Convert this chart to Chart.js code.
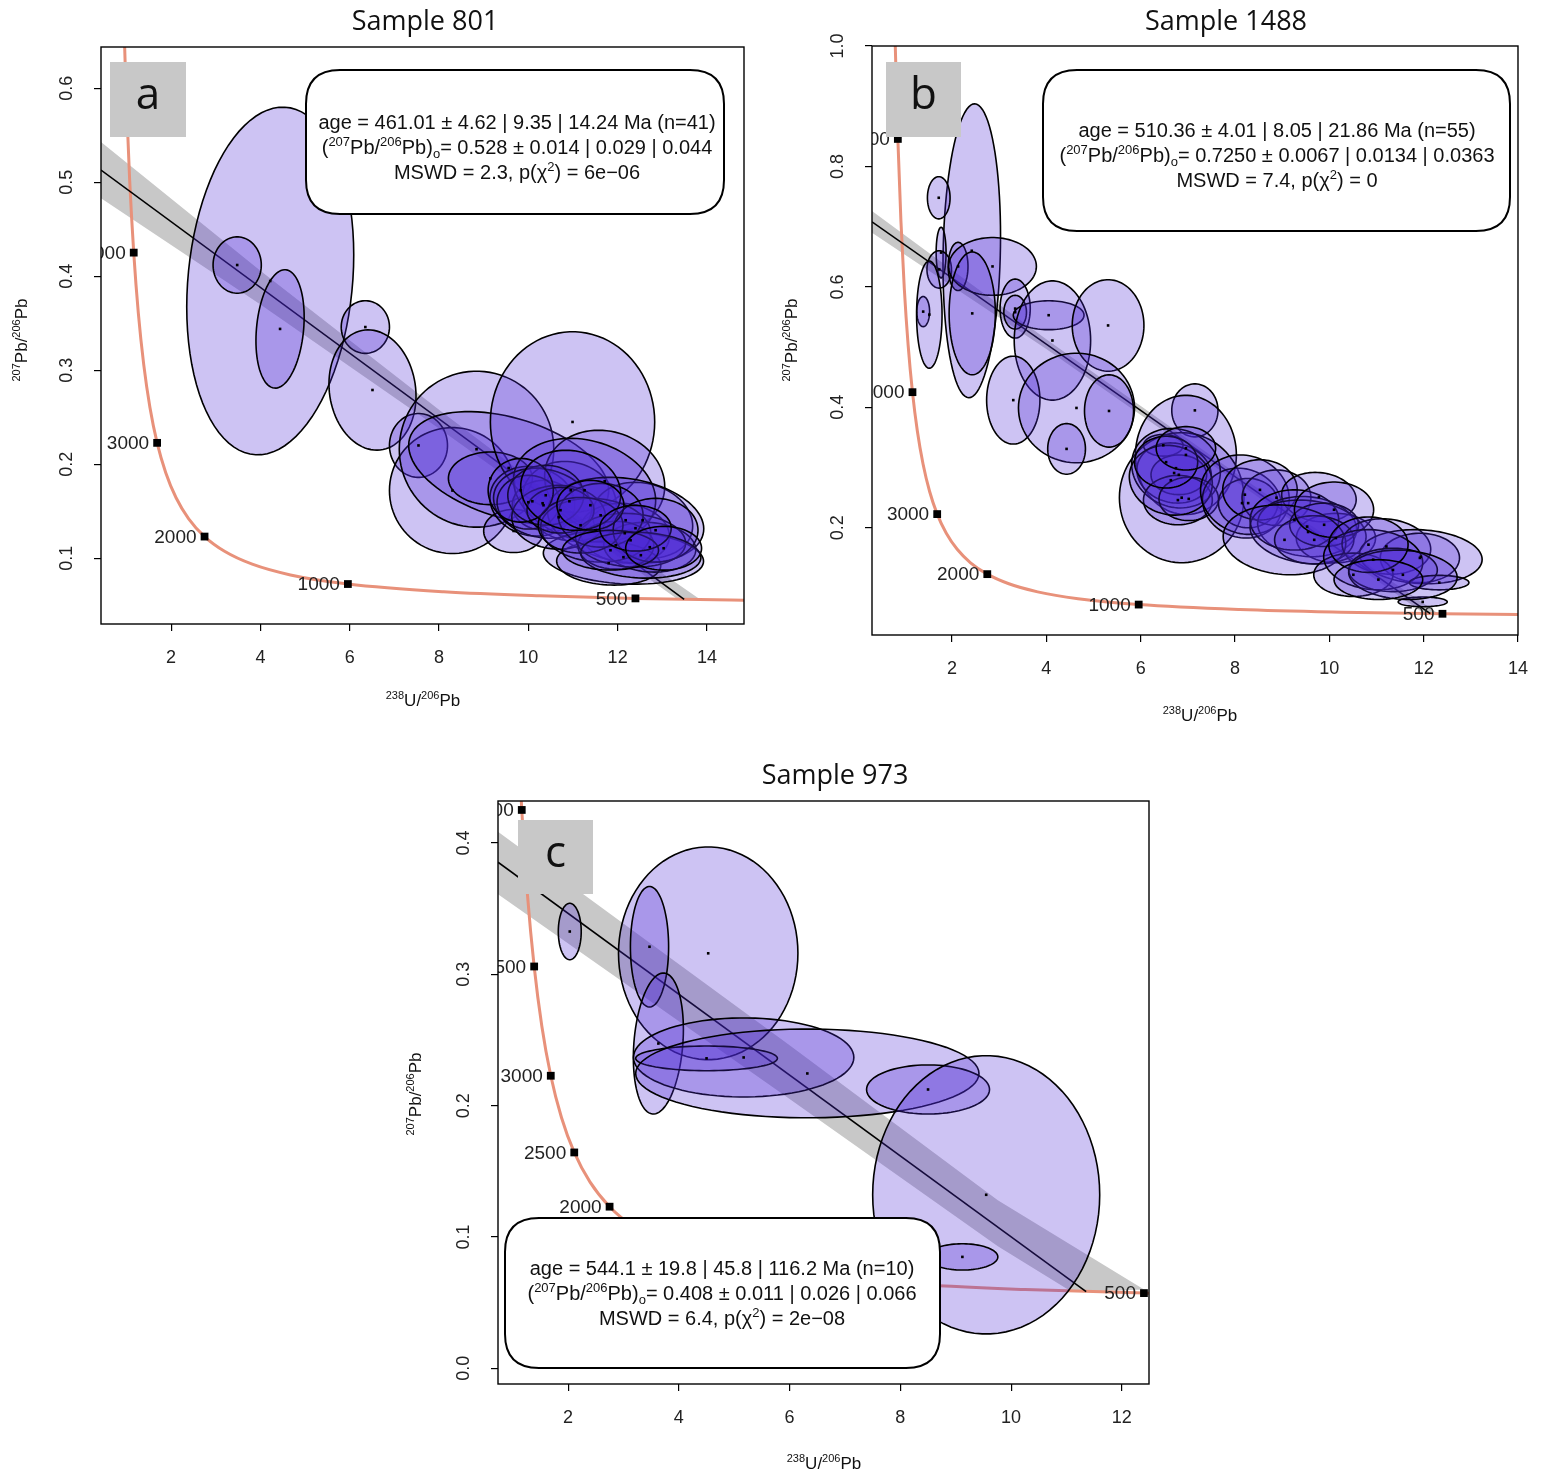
<!DOCTYPE html>
<html>
<head>
<meta charset="utf-8">
<script src="https://cdn.jsdelivr.net/npm/chart.js@4.4.1/dist/chart.umd.min.js"></script>
<style>
body { margin: 0; background: #fff; width: 1544px; height: 1477px; position: relative; overflow: hidden; }
canvas { position: absolute; }
</style>
</head>
<body>
<canvas id="chartA" width="772" height="730" style="left:0;top:0;width:772px;height:730px"></canvas>
<canvas id="chartB" width="772" height="740" style="left:772px;top:0;width:772px;height:740px"></canvas>
<canvas id="chartC" width="800" height="732" style="left:380px;top:745px;width:800px;height:732px"></canvas>
<script>
// concordia curve (Tera-Wasserburg), age in Ma
const concAge = [400, 500, 600, 750, 1000, 1250, 1500, 1750, 2000, 2250, 2500, 2750, 3000, 3250, 3500, 3750, 4000, 4250, 4500, 4750, 5000, 5250, 5500];
const concX = [15.621, 12.399, 10.252, 8.105, 5.959, 4.673, 3.817, 3.206, 2.749, 2.394, 2.111, 1.880, 1.687, 1.525, 1.387, 1.267, 1.163, 1.071, 0.990, 0.918, 0.853, 0.795, 0.742];
const concY = [0.05472, 0.05724, 0.05993, 0.06429, 0.07253, 0.08223, 0.09364, 0.10711, 0.12304, 0.14193, 0.16434, 0.19099, 0.22276, 0.26067, 0.30597, 0.36017, 0.42519, 0.50325, 0.59697, 0.70967, 0.8457, 1.0095, 1.2075];

// sample 801
const aTicksX = [2, 4, 6, 8, 10, 12, 14];
const aTicksY = [0.1, 0.2, 0.3, 0.4, 0.5, 0.6];
const aMarkers = [500, 1000, 2000, 3000, 4000];
const aEllX = [4.22, 3.48, 4.44, 6.35, 6.51, 7.54, 8.30, 8.84, 9.56, 9.15, 9.67, 10.99,
  10.09, 10.34, 10.92, 11.71, 12.56, 12.16, 11.26, 10.32, 10.00, 12.18, 12.13, 11.80, 12.72, 10.68, 10.39,
  11.51, 11.96, 10.72, 12.29, 11.62, 11.17, 12.85, 12.52, 9.83, 10.95, 11.84, 11.39, 12.40, 13.03];
const aEllY = [0.395, 0.412, 0.344, 0.346, 0.279, 0.220, 0.172, 0.216, 0.196, 0.185, 0.129, 0.245,
  0.1606, 0.1564, 0.1606, 0.1819, 0.1404, 0.1266, 0.1723, 0.1585, 0.1596, 0.1404, 0.1011, 0.0947, 0.1117, 0.1436, 0.1670,
  0.1298, 0.1138, 0.1511, 0.1191, 0.1457, 0.1351, 0.1298, 0.1032, 0.1723, 0.1723, 0.1085, 0.1564, 0.1319, 0.1106];
const aEllSx = [1.87, 0.54, 0.54, 0.54, 0.975, 0.65, 1.41, 1.73, 2.24, 0.94, 0.67, 1.84,
  0.95, 0.70, 1.05, 1.345, 1.121, 1.00, 1.592, 1.099, 0.70, 1.749, 1.794, 1.166, 1.031, 1.05, 0.85,
  1.233, 0.85, 0.75, 1.233, 0.95, 0.95, 0.95, 1.345, 0.73, 1.121, 1.076, 0.75, 0.80, 0.85];
const aEllSy = [0.185, 0.030, 0.063, 0.028, 0.064, 0.034, 0.067, 0.083, 0.060, 0.028, 0.023, 0.096,
  0.0371, 0.0264, 0.0424, 0.0543, 0.0404, 0.0318, 0.0553, 0.0372, 0.0286, 0.0457, 0.0287, 0.0233, 0.0265, 0.0339, 0.0318,
  0.0339, 0.0254, 0.0243, 0.0286, 0.0339, 0.0296, 0.0339, 0.0244, 0.0339, 0.0426, 0.0211, 0.0264, 0.0243, 0.0233];
const aEllRho = [0.15, 0, 0.2, 0, -0.1, 0, 0, 0, -0.4, 0, 0, 0,
  -0.1, 0, -0.1, -0.1, -0.15, -0.1, -0.2, -0.15, 0, -0.2, -0.15, -0.1, -0.1, 0, 0,
  -0.1, 0, 0, -0.1, 0, 0, 0, -0.1, 0, -0.1, 0, 0, 0, 0];
const aBandUpX = [0.43, 4, 8, 11, 13.85];
const aBandUpY = [0.543, 0.406, 0.258, 0.150, 0.056];
const aBandLoX = [0.43, 4, 8, 11, 13.35];
const aBandLoY = [0.483, 0.370, 0.238, 0.136, 0.056];
const aLineX = [0.43, 13.49];
const aLineY = [0.513, 0.0562];

// sample 1488
const bTicksX = [2, 4, 6, 8, 10, 12, 14];
const bTicksY = [0.2, 0.4, 0.6, 0.8, 1.0];
const bMarkers = [500, 1000, 2000, 3000, 4000, 5000];
const bEllX = [2.42, 1.72, 1.77, 1.73, 2.13, 2.86, 2.43, 1.39, 1.52, 3.34, 3.34, 4.05, 4.13, 5.31, 3.30, 4.64, 5.33, 4.43,
  7.15, 6.96, 6.87, 6.48, 6.71, 6.81, 6.75, 6.79, 7.02, 6.64, 6.54, 6.96,
  8.15, 8.28, 8.21, 8.88, 8.53, 9.78, 9.53, 10.14, 9.55, 9.26, 9.89, 9.68, 9.05, 10.10,
  11.21, 11.92, 11.94, 10.51, 10.93, 11.35, 11.98, 12.33, 11.56, 10.83, 11.04];
const bEllY = [0.660, 0.748, 0.657, 0.629, 0.634, 0.634, 0.556, 0.559, 0.554, 0.564, 0.558, 0.553, 0.511, 0.536, 0.412, 0.399, 0.394, 0.331,
  0.395, 0.321, 0.250, 0.337, 0.291, 0.288, 0.299, 0.246, 0.248, 0.279, 0.309, 0.332,
  0.241, 0.241, 0.255, 0.250, 0.263, 0.251, 0.202, 0.183, 0.193, 0.213, 0.205, 0.180, 0.180, 0.230,
  0.169, 0.150, 0.152, 0.122, 0.147, 0.130, 0.077, 0.109, 0.122, 0.172, 0.114];
const bEllSx = [0.61, 0.24, 0.105, 0.26, 0.21, 0.93, 0.49, 0.136, 0.27, 0.32, 0.24, 0.75, 0.81, 0.76, 0.565, 1.23, 0.52, 0.40,
  0.49, 1.07, 1.32, 0.42, 0.79, 0.59, 0.94, 0.73, 0.63, 0.88, 0.67, 0.63,
  0.84, 0.63, 0.94, 0.73, 0.79, 0.79, 1.05, 0.84, 1.23, 0.94, 0.73, 0.84, 1.30, 0.84,
  0.94, 0.84, 1.30, 0.84, 1.05, 0.94, 0.52, 0.63, 1.15, 0.84, 0.94];
const bEllSy = [0.244, 0.035, 0.042, 0.031, 0.040, 0.048, 0.102, 0.025, 0.089, 0.049, 0.028, 0.024, 0.099, 0.076, 0.073, 0.091, 0.060, 0.042,
  0.044, 0.099, 0.108, 0.018, 0.050, 0.033, 0.066, 0.041, 0.036, 0.058, 0.043, 0.036,
  0.058, 0.041, 0.066, 0.046, 0.050, 0.041, 0.050, 0.041, 0.053, 0.050, 0.036, 0.040, 0.058, 0.046,
  0.046, 0.041, 0.045, 0.036, 0.050, 0.036, 0.008, 0.012, 0.041, 0.046, 0.033];
const bEllRho = [0.1, 0, 0, 0, 0, 0, 0, 0, 0, 0, 0, 0, 0, 0, 0, 0, 0, 0,
  0, 0, 0, 0, -0.1, 0, -0.1, 0, 0, -0.1, 0, 0,
  -0.1, 0, -0.1, 0, 0, -0.1, -0.1, 0, -0.15, 0, 0, 0, -0.1, 0,
  -0.1, 0, -0.1, 0, -0.1, 0, 0, 0, -0.1, 0, 0];
const bBandUpX = [0.305, 4, 8, 12.3];
const bBandUpY = [0.726, 0.513, 0.292, 0.058];
const bBandLoX = [0.305, 4, 8, 12.0];
const bBandLoY = [0.690, 0.497, 0.278, 0.058];
const bLineX = [0.305, 12.14];
const bLineY = [0.708, 0.0575];

// sample 973
const cTicksX = [2, 4, 6, 8, 10, 12];
const cTicksY = [0.0, 0.1, 0.2, 0.3, 0.4];
const cMarkers = [500, 1000, 2000, 2500, 3000, 3500, 4000];
const cEllX = [2.03, 4.53, 3.47, 3.63, 5.17, 4.50, 6.32, 8.50, 9.55, 9.12];
const cEllY = [0.3326, 0.316, 0.321, 0.2473, 0.2367, 0.236, 0.2245, 0.2123, 0.1321, 0.0848];
const cEllSx = [0.207, 1.62, 0.345, 0.452, 1.99, 1.28, 3.10, 1.11, 2.05, 0.64];
const cEllSy = [0.0215, 0.081, 0.0459, 0.0537, 0.0301, 0.0094, 0.0338, 0.0187, 0.106, 0.010];
const cEllRho = [0, 0, 0, 0.2, 0, 0, 0, 0, 0, 0];
const cBandUpX = [0.734, 6, 9.76, 12.4];
const cBandUpY = [0.4085, 0.246, 0.128, 0.060];
const cBandLoX = [0.734, 6, 9.76, 11.1];
const cBandLoY = [0.361, 0.205, 0.093, 0.058];
const cLineX = [0.734, 11.355];
const cLineY = [0.3854, 0.0584];

const SANS = '"Liberation Sans", Arial, sans-serif';
const TITLE_FONT = '"Open Sans", "Noto Sans", sans-serif';

function pbLine(rest) {
  return [['n', '('], ['p', '207'], ['n', 'Pb/'], ['p', '206'], ['n', 'Pb)'], ['b', 'o'], ['n', '= ' + rest]];
}
function chiLine(mswd, p) {
  return [['n', 'MSWD = ' + mswd + ', p(\u03c7'], ['p', '2'], ['n', ') = ' + p]];
}
const xTitle = [['p', '238'], ['n', 'U/'], ['p', '206'], ['n', 'Pb']];
const yTitle = [['p', '207'], ['n', 'Pb/'], ['p', '206'], ['n', 'Pb']];

function drawRich(ctx, segs, cx, cy, size, family) {
  const fontFor = k => (k === 'n' ? size : Math.round(size * 0.66)) + 'px ' + family;
  let w = 0;
  for (const [k, t] of segs) { ctx.font = fontFor(k); w += ctx.measureText(t).width; }
  let x = cx - w / 2;
  ctx.textAlign = 'left';
  ctx.textBaseline = 'alphabetic';
  const base = cy + size * 0.36;
  for (const [k, t] of segs) {
    ctx.font = fontFor(k);
    const dy = k === 'p' ? -size * 0.42 : (k === 'b' ? size * 0.2 : 0);
    ctx.fillText(t, x, base + dy);
    x += ctx.measureText(t).width;
  }
}

function roundBox(ctx, x0, y0, x1, y1, r) {
  ctx.beginPath();
  ctx.moveTo(x0 + r, y0);
  ctx.lineTo(x1 - r, y0);
  ctx.quadraticCurveTo(x1, y0, x1, y0 + r);
  ctx.lineTo(x1, y1 - r);
  ctx.quadraticCurveTo(x1, y1, x1 - r, y1);
  ctx.lineTo(x0 + r, y1);
  ctx.quadraticCurveTo(x0, y1, x0, y1 - r);
  ctx.lineTo(x0, y0 + r);
  ctx.quadraticCurveTo(x0, y0, x0 + r, y0);
  ctx.closePath();
}

function clipArea(ctx, ca) {
  ctx.beginPath();
  ctx.rect(ca.left, ca.top, ca.right - ca.left, ca.bottom - ca.top);
  ctx.clip();
}

const panels = [
  {
    id: 'chartA', title: 'Sample 801', letter: 'a',
    xMin: 0.43, xMax: 14.83, yMin: 0.030, yMax: 0.644,
    xTicks: aTicksX, yTicks: aTicksY, markers: aMarkers,
    ellX: aEllX, ellY: aEllY, ellSx: aEllSx, ellSy: aEllSy, ellRho: aEllRho,
    bandUpX: aBandUpX, bandUpY: aBandUpY, bandLoX: aBandLoX, bandLoY: aBandLoY,
    lineX: aLineX, lineY: aLineY,
    pad: { left: 41, top: 47, right: 28, bottom: 56 },
    titleAt: [425, 22], xTitleAt: [423, 700], yTitleAt: [21, 340],
    letterBox: [110, 62, 186, 137], infoBox: [306, 70, 724, 214], infoAt: [517, 122],
    info: [
      [['n', 'age = 461.01 \u00b1 4.62 | 9.35 | 14.24 Ma (n=41)']],
      pbLine('0.528 \u00b1 0.014 | 0.029 | 0.044'),
      chiLine('2.3', '6e\u221206')
    ]
  },
  {
    id: 'chartB', title: 'Sample 1488', letter: 'b',
    xMin: 0.305, xMax: 14.0, yMin: 0.022, yMax: 1.0,
    xTicks: bTicksX, yTicks: bTicksY, markers: bMarkers,
    ellX: bEllX, ellY: bEllY, ellSx: bEllSx, ellSy: bEllSy, ellRho: bEllRho,
    bandUpX: bBandUpX, bandUpY: bBandUpY, bandLoX: bBandLoX, bandLoY: bBandLoY,
    lineX: bLineX, lineY: bLineY,
    pad: { left: 40, top: 46, right: 17, bottom: 55 },
    titleAt: [454, 22], xTitleAt: [428, 715], yTitleAt: [19, 340],
    letterBox: [114, 62, 189, 137], infoBox: [271, 70, 738, 231], infoAt: [505, 130],
    info: [
      [['n', 'age = 510.36 \u00b1 4.01 | 8.05 | 21.86 Ma (n=55)']],
      pbLine('0.7250 \u00b1 0.0067 | 0.0134 | 0.0363'),
      chiLine('7.4', '0')
    ]
  },
  {
    id: 'chartC', title: 'Sample 973', letter: 'c',
    xMin: 0.734, xMax: 12.49, yMin: -0.012, yMax: 0.432,
    xTicks: cTicksX, yTicks: cTicksY, markers: cMarkers,
    ellX: cEllX, ellY: cEllY, ellSx: cEllSx, ellSy: cEllSy, ellRho: cEllRho,
    bandUpX: cBandUpX, bandUpY: cBandUpY, bandLoX: cBandLoX, bandLoY: cBandLoY,
    lineX: cLineX, lineY: cLineY,
    pad: { left: 58, top: 56, right: 31, bottom: 43 },
    titleAt: [455, 31], xTitleAt: [444, 718], yTitleAt: [35, 349],
    letterBox: [138, 75, 213, 149], infoBox: [125, 473, 560, 623], infoAt: [342, 523],
    info: [
      [['n', 'age = 544.1 \u00b1 19.8 | 45.8 | 116.2 Ma (n=10)']],
      pbLine('0.408 \u00b1 0.011 | 0.026 | 0.066'),
      chiLine('6.4', '2e\u221208')
    ]
  }
];

function panelPlugin(p) {
  return {
    id: 'panel_' + p.id,
    beforeDatasetsDraw(chart) {
      const { ctx, chartArea: ca } = chart;
      const xs = chart.scales.x, ys = chart.scales.y;
      ctx.save();
      clipArea(ctx, ca);
      // confidence envelope of the regression line
      ctx.fillStyle = 'rgb(200,200,200)';
      ctx.beginPath();
      p.bandUpX.forEach((v, i) => {
        const px = xs.getPixelForValue(v), py = ys.getPixelForValue(p.bandUpY[i]);
        if (i) ctx.lineTo(px, py); else ctx.moveTo(px, py);
      });
      for (let i = p.bandLoX.length - 1; i >= 0; i--) {
        ctx.lineTo(xs.getPixelForValue(p.bandLoX[i]), ys.getPixelForValue(p.bandLoY[i]));
      }
      ctx.closePath();
      ctx.fill();
      ctx.restore();
    },
    afterDatasetsDraw(chart) {
      const { ctx, chartArea: ca } = chart;
      const xs = chart.scales.x, ys = chart.scales.y;
      ctx.save();
      clipArea(ctx, ca);
      // error ellipses
      ctx.lineWidth = 1.6;
      ctx.strokeStyle = '#000';
      for (let k = 0; k < p.ellX.length; k++) {
        const cx = p.ellX[k], cy = p.ellY[k], sx = p.ellSx[k], sy = p.ellSy[k], r = p.ellRho[k];
        const q = Math.sqrt(1 - r * r);
        ctx.beginPath();
        for (let i = 0; i <= 90; i++) {
          const t = i / 90 * 2 * Math.PI;
          const px = xs.getPixelForValue(cx + sx * Math.cos(t));
          const py = ys.getPixelForValue(cy + sy * (r * Math.cos(t) + q * Math.sin(t)));
          if (i) ctx.lineTo(px, py); else ctx.moveTo(px, py);
        }
        ctx.closePath();
        ctx.fillStyle = 'rgba(75,40,212,0.28)';
        ctx.fill();
        ctx.stroke();
      }
      ctx.fillStyle = '#000';
      for (let k = 0; k < p.ellX.length; k++) {
        ctx.fillRect(xs.getPixelForValue(p.ellX[k]) - 1.3, ys.getPixelForValue(p.ellY[k]) - 1.3, 2.6, 2.6);
      }
      // concordia age labels
      ctx.font = '19px ' + SANS;
      ctx.fillStyle = '#222';
      ctx.textAlign = 'right';
      ctx.textBaseline = 'middle';
      p.markers.forEach(a => {
        const i = concAge.indexOf(a);
        ctx.fillText(String(a), xs.getPixelForValue(concX[i]) - 8, ys.getPixelForValue(concY[i]) + 1);
      });
      ctx.restore();

      // letter box
      const lb = p.letterBox;
      ctx.fillStyle = 'rgb(200,200,200)';
      ctx.fillRect(lb[0], lb[1], lb[2] - lb[0], lb[3] - lb[1]);
      ctx.fillStyle = '#111';
      ctx.font = '44px ' + TITLE_FONT;
      ctx.textAlign = 'center';
      ctx.textBaseline = 'middle';
      ctx.fillText(p.letter, (lb[0] + lb[2]) / 2, (lb[1] + lb[3]) / 2 - 3);

      // info box
      const ib = p.infoBox;
      roundBox(ctx, ib[0], ib[1], ib[2], ib[3], 34);
      ctx.fillStyle = '#fff';
      ctx.fill();
      ctx.lineWidth = 2;
      ctx.strokeStyle = '#000';
      ctx.stroke();
      ctx.fillStyle = '#111';
      p.info.forEach((segs, i) => drawRich(ctx, segs, p.infoAt[0], p.infoAt[1] + i * 25, 20, SANS));

      // plot frame
      ctx.lineWidth = 1.4;
      ctx.strokeStyle = '#000';
      ctx.strokeRect(ca.left, ca.top, ca.right - ca.left, ca.bottom - ca.top);
    },
    afterDraw(chart) {
      const ctx = chart.ctx;
      ctx.save();
      ctx.fillStyle = '#111';
      ctx.font = '27px ' + TITLE_FONT;
      ctx.textAlign = 'center';
      ctx.textBaseline = 'middle';
      ctx.fillText(p.title, p.titleAt[0], p.titleAt[1]);
      drawRich(ctx, xTitle, p.xTitleAt[0], p.xTitleAt[1], 17, SANS);
      ctx.translate(p.yTitleAt[0], p.yTitleAt[1]);
      ctx.rotate(-Math.PI / 2);
      drawRich(ctx, yTitle, 0, 0, 17, SANS);
      ctx.restore();
    }
  };
}

const gridOpts = { display: true, drawOnChartArea: false, drawTicks: true, tickLength: 7, color: '#000', lineWidth: 1.2 };
const tickFont = { family: SANS, size: 18 };

panels.forEach(p => {
  const markerPts = p.markers.map(a => {
    const i = concAge.indexOf(a);
    return { x: concX[i], y: concY[i] };
  });
  new Chart(document.getElementById(p.id), {
    type: 'scatter',
    data: {
      datasets: [
        {
          data: concX.map((x, i) => ({ x: x, y: concY[i] })),
          showLine: true, borderColor: '#E8917A', borderWidth: 3,
          pointRadius: 0, cubicInterpolationMode: 'monotone', order: 3
        },
        {
          data: p.lineX.map((x, i) => ({ x: x, y: p.lineY[i] })),
          showLine: true, borderColor: '#000', borderWidth: 1.6, pointRadius: 0, order: 2
        },
        {
          data: markerPts, pointStyle: 'rect', pointRadius: 5.5,
          backgroundColor: '#000', borderWidth: 0, order: 1
        }
      ]
    },
    options: {
      responsive: false,
      animation: false,
      events: [],
      layout: { padding: p.pad },
      plugins: { legend: { display: false }, tooltip: { enabled: false } },
      scales: {
        x: {
          type: 'linear', min: p.xMin, max: p.xMax,
          afterBuildTicks: s => { s.ticks = p.xTicks.map(v => ({ value: v })); },
          afterFit: s => { s.height = 50; },
          grid: gridOpts, border: { display: false },
          ticks: { font: tickFont, color: '#222', padding: 16, maxRotation: 0, autoSkip: false, callback: v => String(v) }
        },
        y: {
          type: 'linear', min: p.yMin, max: p.yMax,
          afterBuildTicks: s => { s.ticks = p.yTicks.map(v => ({ value: v })); },
          afterFit: s => { s.width = 60; },
          grid: gridOpts, border: { display: false },
          ticks: { font: tickFont, color: '#222', padding: 14, minRotation: 90, maxRotation: 90, crossAlign: 'center', autoSkip: false, callback: v => v.toFixed(1) }
        }
      }
    },
    plugins: [panelPlugin(p)]
  });
});
</script>
</body>
</html>
